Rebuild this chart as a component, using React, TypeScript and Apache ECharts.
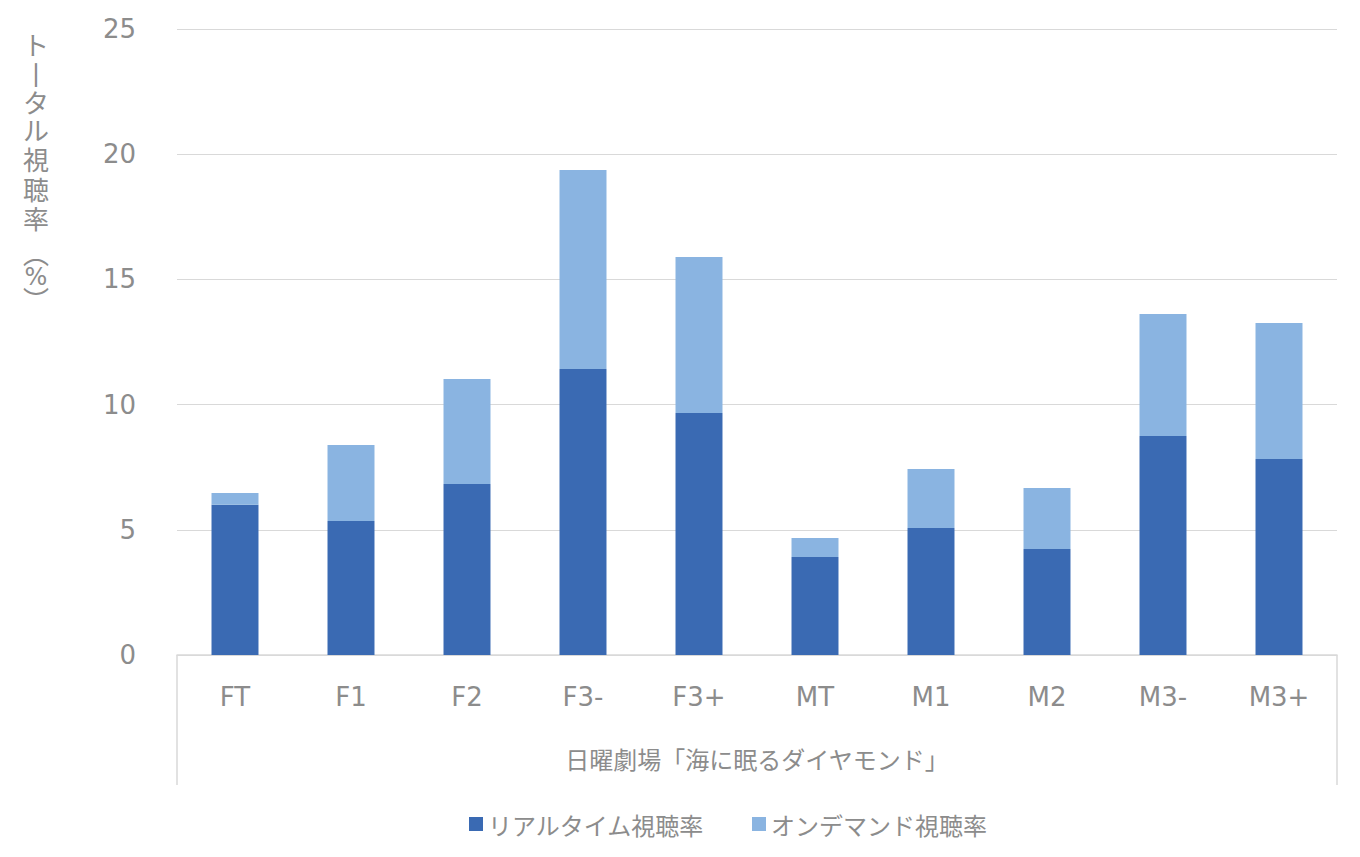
import React, { useEffect, useRef } from "react";
import * as echarts from "echarts";

const categories = ["FT", "F1", "F2", "F3-", "F3+", "MT", "M1", "M2", "M3-", "M3+"];
const realtime = [6.0, 5.35, 6.83, 11.42, 9.66, 3.91, 5.07, 4.23, 8.75, 7.83];
const ondemand = [0.47, 3.04, 4.19, 7.95, 6.23, 0.76, 2.36, 2.44, 4.87, 5.43];
const groupLabel = ["日曜劇場「海に眠るダイヤモンド」"];
const seriesNames = ["リアルタイム視聴率", "オンデマンド視聴率"];
const yAxisTitleChars = ["ト", "丨", "タ", "ル", "視", "聴", "率", "︵", "%", "︶"];
const yAxisTitleCenters = [43, 73, 101, 129, 158, 188, 217, 252, 277, 298];

const LATIN = "'DejaVu Sans', 'Noto Sans CJK JP', sans-serif";
const CJK = "'Noto Sans CJK JP', 'DejaVu Sans', sans-serif";
const GRAY = "#8c8c8c";
const LINE = "#d9d9d9";

export default function App() {
  const ref = useRef<HTMLDivElement>(null);
  useEffect(() => {
    if (!ref.current) return;
    const chart = echarts.init(ref.current, undefined, { renderer: "svg" });
    chart.setOption({
      animation: false,
      grid: { left: 177, right: 23, top: 29, bottom: 202 },
      legend: {
        data: seriesNames,
        top: 807,
        left: 464,
        icon: "rect",
        itemWidth: 14,
        itemHeight: 14,
        itemGap: 48,
        textStyle: { fontSize: 24, color: GRAY, fontFamily: CJK },
      },
      xAxis: [
        {
          type: "category",
          data: categories,
          axisLine: { lineStyle: { color: LINE, width: 1.5 } },
          axisTick: { show: false },
          axisLabel: { color: GRAY, fontSize: 26, fontFamily: LATIN, margin: 29 },
        },
        {
          type: "category",
          data: groupLabel,
          position: "bottom",
          axisLine: { show: false },
          axisTick: { show: true, length: 130, lineStyle: { color: LINE, width: 1.5 } },
          axisLabel: { color: GRAY, fontSize: 24, fontFamily: CJK, margin: 91 },
        },
      ],
      yAxis: {
        type: "value",
        min: 0,
        max: 25,
        interval: 5,
        axisLine: { show: false },
        axisTick: { show: false },
        splitLine: { lineStyle: { color: LINE, width: 1 } },
        axisLabel: { color: GRAY, fontSize: 26, fontFamily: LATIN, margin: 41 },
      },
      graphic: yAxisTitleChars.map((ch, i) => ({
        type: "text",
        x: 36,
        y: yAxisTitleCenters[i],
        style: {
          text: ch,
          fontSize: ch === "%" ? 24 : 26,
          lineHeight: 18,
          fill: GRAY,
          fontFamily: ch === "%" ? LATIN : CJK,
          align: "center",
          verticalAlign: "middle",
        },
      })),
      series: [
        {
          name: seriesNames[0],
          type: "bar",
          stack: "total",
          data: realtime,
          barWidth: "40.5%",
          itemStyle: { color: "#3a6ab3" },
        },
        {
          name: seriesNames[1],
          type: "bar",
          stack: "total",
          data: ondemand,
          barWidth: "40.5%",
          itemStyle: { color: "#8ab4e1" },
        },
      ],
    });
    return () => chart.dispose();
  }, []);
  return <div ref={ref} style={{ width: 1360, height: 857, margin: -8 }} />;
}
